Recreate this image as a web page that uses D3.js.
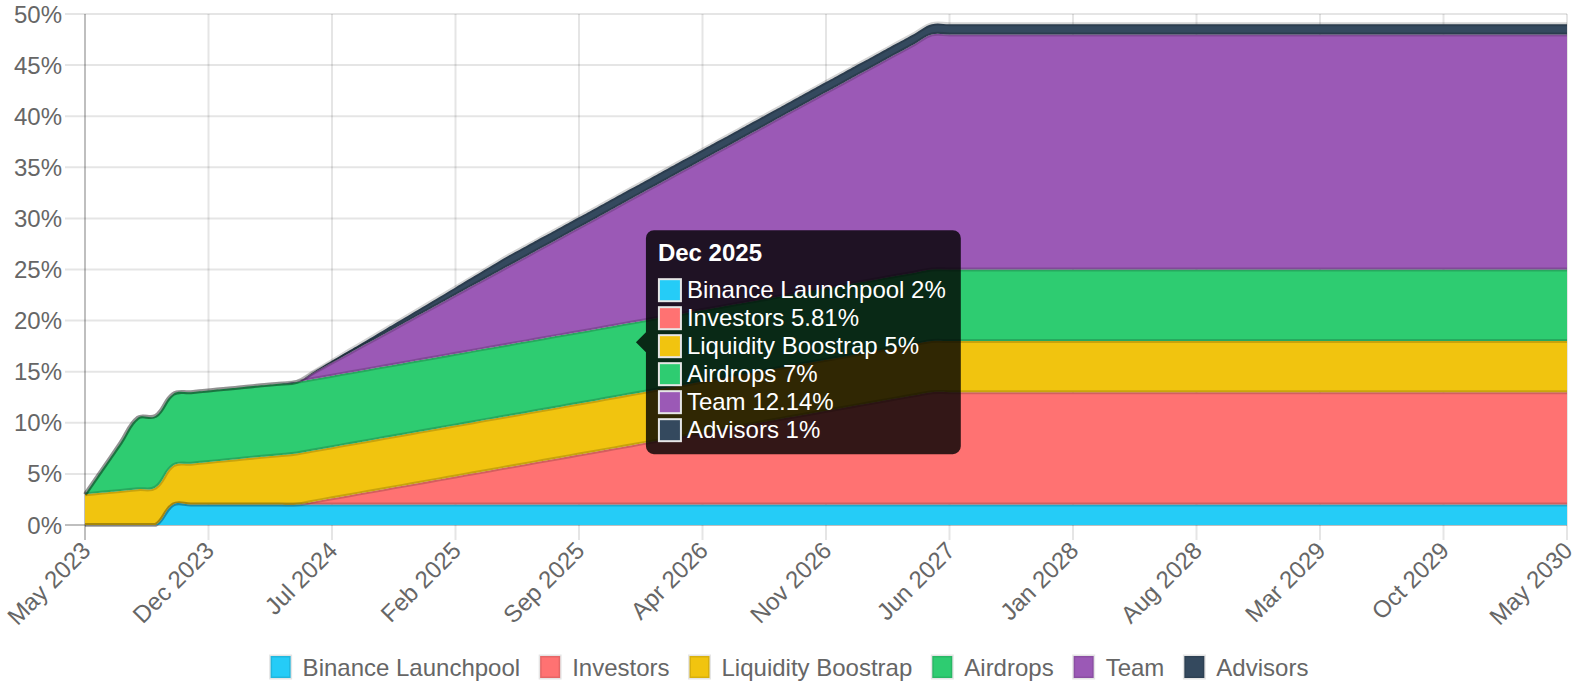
<!DOCTYPE html>
<html><head><meta charset="utf-8">
<script src="https://cdn.jsdelivr.net/npm/d3@7"></script>
<style>
html,body{margin:0;padding:0;background:#fff;}
svg{display:block;}
text{font-family:"Liberation Sans",Arial,Helvetica,sans-serif;}
</style>
</head><body>
<svg id="c" width="1584" height="700"></svg>
<script>
// ---------- DATA ----------
const seriesNames = ["Binance Launchpool","Investors","Liquidity Boostrap","Airdrops","Team","Advisors"];
const seriesColors = ["#25CCF7","#FF7272","#F1C40F","#2ECC71","#9B59B6","#34495E"];
// monthly unlocked % of supply, May 2023 .. May 2030 (85 months)
const binance = [
 0,0,0,0,0,2,2,2,2,2,2,2,
 2,2,2,2,2,2,2,2,2,2,2,2,
 2,2,2,2,2,2,2,2,2,2,2,2,
 2,2,2,2,2,2,2,2,2,2,2,2,
 2,2,2,2,2,2,2,2,2,2,2,2,
 2,2,2,2,2,2,2,2,2,2,2,2,
 2,2,2,2,2,2,2,2,2,2,2,2,
 2];
const investors = [
 0,0,0,0,0,0,0,0,0,0,0,0,
 0,0.31,0.61,0.92,1.22,1.53,1.83,2.14,2.44,2.75,3.06,3.36,
 3.67,3.97,4.28,4.58,4.89,5.19,5.5,5.81,6.11,6.42,6.72,7.03,
 7.33,7.64,7.94,8.25,8.56,8.86,9.17,9.47,9.78,10.08,10.39,10.69,
 11,11,11,11,11,11,11,11,11,11,11,11,
 11,11,11,11,11,11,11,11,11,11,11,11,
 11,11,11,11,11,11,11,11,11,11,11,11,
 11];
const liquidity = [
 3,3.17,3.33,3.5,3.67,3.83,4,4.17,4.33,4.5,4.67,4.83,
 5,5,5,5,5,5,5,5,5,5,5,5,
 5,5,5,5,5,5,5,5,5,5,5,5,
 5,5,5,5,5,5,5,5,5,5,5,5,
 5,5,5,5,5,5,5,5,5,5,5,5,
 5,5,5,5,5,5,5,5,5,5,5,5,
 5,5,5,5,5,5,5,5,5,5,5,5,
 5];
const airdrops = [
 0,2.33,4.67,7,7,7,7,7,7,7,7,7,
 7,7,7,7,7,7,7,7,7,7,7,7,
 7,7,7,7,7,7,7,7,7,7,7,7,
 7,7,7,7,7,7,7,7,7,7,7,7,
 7,7,7,7,7,7,7,7,7,7,7,7,
 7,7,7,7,7,7,7,7,7,7,7,7,
 7,7,7,7,7,7,7,7,7,7,7,7,
 7];
const team = [
 0,0,0,0,0,0,0,0,0,0,0,0,
 0,0.64,1.28,1.92,2.56,3.19,3.83,4.47,5.11,5.75,6.39,7.03,
 7.67,8.31,8.94,9.58,10.22,10.86,11.5,12.14,12.78,13.42,14.06,14.69,
 15.33,15.97,16.61,17.25,17.89,18.53,19.17,19.81,20.44,21.08,21.72,22.36,
 23,23,23,23,23,23,23,23,23,23,23,23,
 23,23,23,23,23,23,23,23,23,23,23,23,
 23,23,23,23,23,23,23,23,23,23,23,23,
 23];
const advisors = [
 0,0,0,0,0,0,0,0,0,0,0,0,
 0,0.08,0.17,0.25,0.33,0.42,0.5,0.58,0.67,0.75,0.83,0.92,
 1,1,1,1,1,1,1,1,1,1,1,1,
 1,1,1,1,1,1,1,1,1,1,1,1,
 1,1,1,1,1,1,1,1,1,1,1,1,
 1,1,1,1,1,1,1,1,1,1,1,1,
 1,1,1,1,1,1,1,1,1,1,1,1,
 1];
const xTickLabels = ["May 2023","Dec 2023","Jul 2024","Feb 2025","Sep 2025","Apr 2026","Nov 2026","Jun 2027","Jan 2028","Aug 2028","Mar 2029","Oct 2029","May 2030"];
const yTicks = [0,5,10,15,20,25,30,35,40,45,50];
const tooltipIndex = 31; // Dec 2025

// ---------- SETUP ----------
const fmt = d3.timeFormat("%b %Y");
const months = d3.timeMonth.range(new Date(2023,4,1), new Date(2030,5,1)).map(fmt);
const seriesValues = [binance, investors, liquidity, airdrops, team, advisors];
const table = months.map((m,i) => {
  const o = {month:m};
  seriesNames.forEach((n,k) => o[n] = seriesValues[k][i]);
  return o;
});
const stacked = d3.stack().keys(seriesNames)(table);

const L = 85, R = 1567, T = 14, B = 525;
const x = d3.scalePoint().domain(months).range([L, R]);
const y = d3.scaleLinear().domain([0, 50]).range([B, T]);

// Chart.js-style spline (tension 0.4, control points capped to chart area)
const TENSION = 0.4;
function ChartSpline(context){ this._context = context; }
ChartSpline.prototype = {
  areaStart(){ this._line = 0; },
  areaEnd(){ this._line = NaN; },
  lineStart(){ this._pts = []; },
  point(px, py){ this._pts.push([+px, +py]); },
  lineEnd(){
    const p = this._pts, n = p.length, c = this._context;
    const cx = v => Math.max(L, Math.min(R, v)), cy = v => Math.max(T, Math.min(B, v));
    if (n) {
      const cps = p.map((cur, i) => {
        const prev = p[i-1] || cur, next = p[i+1] || cur;
        const d01 = Math.hypot(cur[0]-prev[0], cur[1]-prev[1]);
        const d12 = Math.hypot(next[0]-cur[0], next[1]-cur[1]);
        let s01 = d01/(d01+d12), s12 = d12/(d01+d12);
        if (isNaN(s01)) s01 = 0; if (isNaN(s12)) s12 = 0;
        const fa = TENSION*s01, fb = TENSION*s12;
        return {
          px: cx(cur[0]-fa*(next[0]-prev[0])), py: cy(cur[1]-fa*(next[1]-prev[1])),
          nx: cx(cur[0]+fb*(next[0]-prev[0])), ny: cy(cur[1]+fb*(next[1]-prev[1]))
        };
      });
      this._line ? c.lineTo(p[0][0], p[0][1]) : c.moveTo(p[0][0], p[0][1]);
      for (let i = 1; i < n; i++) c.bezierCurveTo(cps[i-1].nx, cps[i-1].ny, cps[i].px, cps[i].py, p[i][0], p[i][1]);
    }
    if (this._line || (this._line !== 0 && n === 1)) c.closePath();
    this._line = 1 - this._line;
  }
};
const curveChart = ctx => new ChartSpline(ctx);

const svg = d3.select("#c");
const GRID = "rgba(0,0,0,0.1)", ZERO = "rgba(0,0,0,0.25)";

// ---------- GRID ----------
const grid = svg.append("g");
yTicks.forEach((t,i) => {
  grid.append("line").attr("x1", L-20).attr("x2", R).attr("y1", y(t)).attr("y2", y(t))
    .attr("stroke", i === 0 ? ZERO : GRID).attr("stroke-width", 2);
});
xTickLabels.forEach((t,i) => {
  grid.append("line").attr("x1", x(t)).attr("x2", x(t)).attr("y1", T).attr("y2", B+15)
    .attr("stroke", i === 0 ? ZERO : GRID).attr("stroke-width", 2);
});

// ---------- AREAS ----------
svg.append("defs").append("clipPath").attr("id","clip")
  .append("rect").attr("x", L-3).attr("y", T-3).attr("width", R-L+6).attr("height", B-T+6);
const plot = svg.append("g").attr("clip-path","url(#clip)");
const area = d3.area().x(d => x(d.data.month)).y0(d => y(d[0])).y1(d => y(d[1])).curve(curveChart);
const line = d3.line().x(d => x(d.data.month)).y(d => y(d[1])).curve(curveChart);
plot.selectAll("path.a").data(stacked).join("path").attr("class","a")
  .attr("d", area).attr("fill", (d,i) => seriesColors[i]);
plot.selectAll("path.l").data(stacked.slice().reverse()).join("path").attr("class","l")
  .attr("d", line).attr("fill","none").attr("stroke","rgba(0,0,0,0.17)").attr("stroke-width",4)
  .attr("stroke-linejoin","round");

// ---------- AXIS LABELS ----------
const labels = svg.append("g").attr("fill","#666").attr("font-size",24);
yTicks.forEach(t => {
  labels.append("text").attr("x", L-23).attr("y", y(t)).attr("text-anchor","end")
    .attr("dominant-baseline","central").text(t + "%");
});
xTickLabels.forEach(t => {
  labels.append("text").attr("text-anchor","end").attr("dominant-baseline","central")
    .attr("transform", `translate(${x(t)+1},${B+21}) rotate(-45)`).text(t);
});

// ---------- LEGEND ----------
const leg = svg.append("g");
const items = seriesNames.map((n,i) => {
  const g = leg.append("g");
  g.append("rect").attr("width",20).attr("height",22).attr("y",656)
    .attr("fill", seriesColors[i]).attr("stroke","rgba(0,0,0,0.1)").attr("stroke-width",3);
  const tx = g.append("text").attr("x",32).attr("y",676).attr("font-size",24).attr("fill","#666").text(n);
  return {g, w: tx.node().getComputedTextLength()};
});
const total = d3.sum(items, d => 32 + d.w) + 20*(items.length-1);
let cur = 792 - total/2 - 2.5;
items.forEach(it => { it.g.attr("transform", `translate(${cur},0)`); cur += 32 + it.w + 20; });

// ---------- TOOLTIP ----------
const tipX = x(months[tooltipIndex]);
const tops = stacked.map(s => s[tooltipIndex][1]);
const caretY = y(d3.mean(tops));
const tip = svg.append("g");
const tipTexts = seriesNames.map((n,k) => `${n} ${seriesValues[k][tooltipIndex]}%`);
const meas = tip.append("g").attr("font-size",24);
const widths = tipTexts.map(t => { const e = meas.append("text").text(t); const w = e.node().getComputedTextLength(); e.remove(); return w; });
const tw = 41 + d3.max(widths) + 15, th = 224;
const tl = tipX + 14, tt = caretY - th/2, r = 8;
const pth = d3.path();
pth.moveTo(tl + r, tt);
pth.lineTo(tl + tw - r, tt); pth.arcTo(tl+tw, tt, tl+tw, tt+r, r);
pth.lineTo(tl + tw, tt + th - r); pth.arcTo(tl+tw, tt+th, tl+tw-r, tt+th, r);
pth.lineTo(tl + r, tt + th); pth.arcTo(tl, tt+th, tl, tt+th-r, r);
pth.lineTo(tl, caretY + 10); pth.lineTo(tl - 10, caretY); pth.lineTo(tl, caretY - 10);
pth.lineTo(tl, tt + r); pth.arcTo(tl, tt, tl + r, tt, r);
pth.closePath();
tip.append("path").attr("d", pth.toString()).attr("fill","rgba(0,0,0,0.8)");
tip.append("text").attr("x", tl+12).attr("y", tt+31).attr("fill","#fff").attr("font-size",24)
  .attr("font-weight","bold").text(months[tooltipIndex]);
tipTexts.forEach((t,k) => {
  const by = tt + 68 + 28*k;
  tip.append("rect").attr("x", tl+12).attr("y", by-20).attr("width",24).attr("height",24).attr("fill","#e6e6e6");
  tip.append("rect").attr("x", tl+14).attr("y", by-18).attr("width",20).attr("height",20).attr("fill",seriesColors[k]);
  tip.append("text").attr("x", tl+41).attr("y", by).attr("fill","#fff").attr("font-size",24).text(t);
});
</script>
</body></html>
